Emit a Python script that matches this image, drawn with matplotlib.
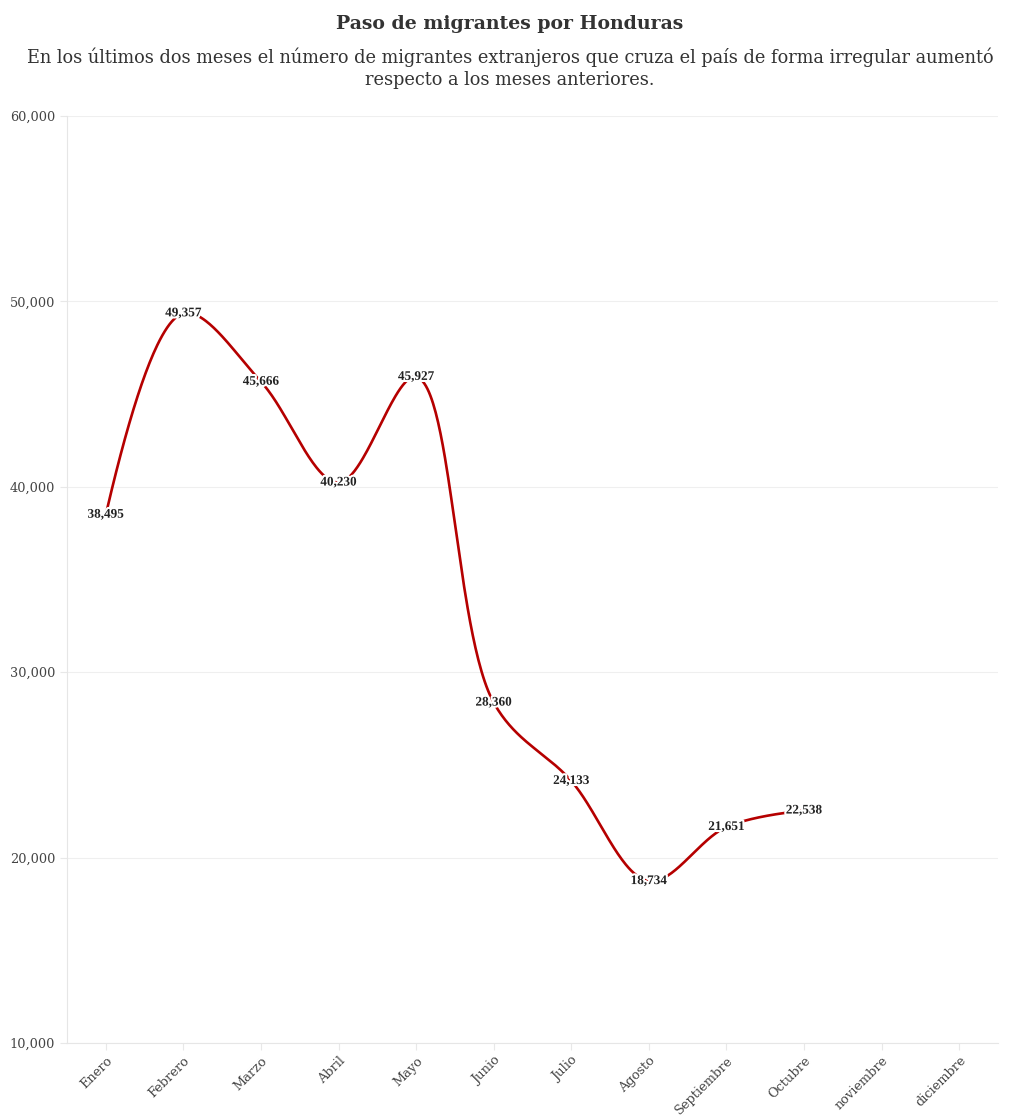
import numpy as np
import matplotlib.pyplot as plt
import matplotlib.patheffects as pe

plt.rcParams['font.family'] = ['DejaVu Serif']

meses = ['Enero', 'Febrero', 'Marzo', 'Abril', 'Mayo', 'Junio', 'Julio',
         'Agosto', 'Septiembre', 'Octubre', 'noviembre', 'diciembre']
migrantes = [38495, 49357, 45666, 40230, 45927, 28360, 24133, 18734, 21651, 22538]
y_ticks = [10000, 20000, 30000, 40000, 50000, 60000]

titulo = 'Paso de migrantes por Honduras'
subtitulo = ['En los últimos dos meses el número de migrantes extranjeros que cruza el país de forma irregular aumentó',
             'respecto a los meses anteriores.']

W, H = 1020, 1119
fig = plt.figure(figsize=(W / 100, H / 100), dpi=100)
ax = fig.add_axes([67 / W, 1 - 1043 / H, 931 / W, 927 / H])

ax.set_xlim(-0.5, len(meses) - 0.5)
ax.set_ylim(10000, 60000)
ax.set_xticks(range(len(meses)))
ax.set_xticklabels(meses, rotation=45, ha='right', rotation_mode='anchor')
ax.set_yticks(y_ticks)
ax.set_yticklabels([f'{v:,}' for v in y_ticks])
ax.tick_params(axis='both', length=5, color='#e8e8e8', labelcolor='#444444', labelsize=9.3)
ax.tick_params(axis='x', pad=3)
ax.grid(axis='y', color='#efefef', linewidth=0.8)
ax.set_axisbelow(True)
for s in ['top', 'right']:
    ax.spines[s].set_visible(False)
for s in ['left', 'bottom']:
    ax.spines[s].set_color('#e6e6e6')
    ax.spines[s].set_linewidth(0.8)


# spline like plotly (smoothing 1), worked out in pixel space
def tangent(p0, p1, p2, s=1.0):
    d1 = p0 - p1
    d2 = p2 - p1
    d1a = np.hypot(*d1) ** 0.5
    d2a = np.hypot(*d2) ** 0.5
    num = (d2a ** 2 * d1 - d1a ** 2 * d2) * s
    den1 = 3 * d2a * (d1a + d2a)
    den2 = 3 * d1a * (d1a + d2a)
    return p1 + num / den1, p1 - num / den2


def quad(a, b, c, t):
    t = t[:, None]
    return (1 - t) ** 2 * a + 2 * (1 - t) * t * b + t ** 2 * c


def cubic(a, b, c, d, t):
    t = t[:, None]
    return (1 - t) ** 3 * a + 3 * (1 - t) ** 2 * t * b + 3 * (1 - t) * t ** 2 * c + t ** 3 * d


xs = np.arange(len(migrantes))
pts = ax.transData.transform(np.column_stack([xs, migrantes]))
tans = [tangent(pts[i - 1], pts[i], pts[i + 1]) for i in range(1, len(pts) - 1)]
t = np.linspace(0, 1, 60)
curve = [quad(pts[0], tans[0][0], pts[1], t)]
for i in range(2, len(pts) - 1):
    curve.append(cubic(pts[i - 1], tans[i - 2][1], tans[i - 1][0], pts[i], t))
curve.append(quad(pts[-2], tans[-1][1], pts[-1], t))
curve = ax.transData.inverted().transform(np.vstack(curve))
ax.plot(curve[:, 0], curve[:, 1], color='#b50000', linewidth=1.9,
        solid_capstyle='round', solid_joinstyle='round', zorder=3)

for x, v in zip(xs, migrantes):
    ax.text(x, v, f'{v:,}', ha='center', va='center', fontsize=9.5, fontweight='bold',
            family='Liberation Serif', color='#222222', zorder=4,
            path_effects=[pe.withStroke(linewidth=3, foreground='white')])

fig.text(0.5, 1 - 24 / H, titulo, ha='center', va='center', fontsize=13.6,
         fontweight='bold', color='#333333')
fig.text(0.5, 1 - 57 / H, subtitulo[0], ha='center', va='center', fontsize=12.8, color='#333333')
fig.text(0.5, 1 - 80 / H, subtitulo[1], ha='center', va='center', fontsize=12.8, color='#333333')

fig.savefig('out.png', dpi=100, facecolor='white')
